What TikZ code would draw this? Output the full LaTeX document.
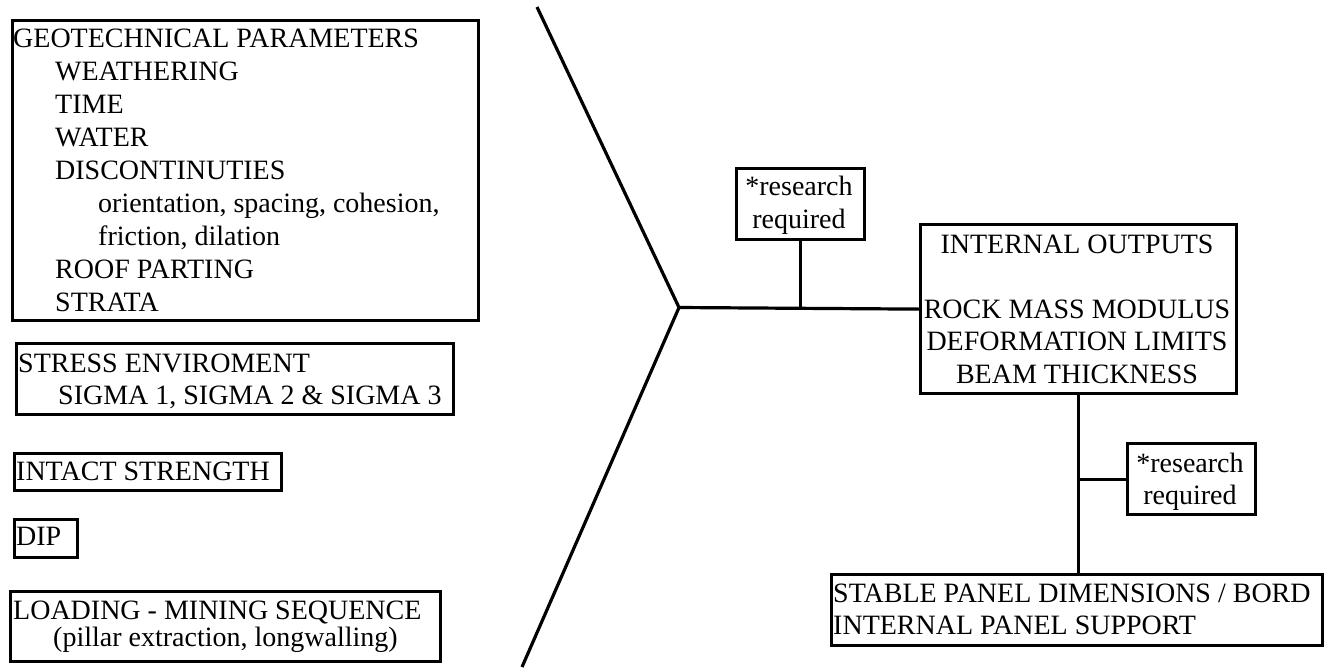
\documentclass[tikz,border=0pt]{standalone}
\usepackage{fontspec}
\setmainfont{Liberation Serif}
\tikzset{
  frame/.style={draw, line width=3.2pt, inner sep=0pt, anchor=north west},
  txt/.style={inner sep=0pt, anchor=north west, align=left, font=\fontsize{28}{33}\selectfont},
  ctxt/.style={inner sep=0pt, anchor=north, align=center, font=\fontsize{28}{33}\selectfont},
  link/.style={line width=3.2pt}
}
\begin{document}
\begin{tikzpicture}[x=1pt,y=-1pt]
\useasboundingbox (0,0) rectangle (1324,667);

% frames
\node[frame, minimum width=466pt, minimum height=300pt] (geo) at (11,19) {};
\node[frame, minimum width=437pt, minimum height=71pt] (stress) at (15,342) {};
\node[frame, minimum width=267pt, minimum height=37pt] (intact) at (13,452) {};
\node[frame, minimum width=63pt, minimum height=38pt] (dip) at (13,518) {};
\node[frame, minimum width=430pt, minimum height=70pt] (loading) at (9,590) {};
\node[frame, minimum width=128pt, minimum height=71pt] (res1) at (735,167) {};
\node[frame, minimum width=316pt, minimum height=169pt] (internal) at (919,223) {};
\node[frame, minimum width=128pt, minimum height=71pt] (res2) at (1126,442) {};
\node[frame, minimum width=491pt, minimum height=71pt] (stable) at (830,573) {};

% texts
\node[txt] (geotxt) at (13,28.5) {GEOTECHNICAL PARAMETERS\\
\hspace*{42pt}WEATHERING\\
\hspace*{42pt}TIME\\
\hspace*{42pt}WATER\\
\hspace*{42pt}DISCONTINUTIES\\
\hspace*{85pt}orientation, spacing, cohesion,\\
\hspace*{85pt}friction, dilation\\
\hspace*{42pt}ROOF PARTING\\
\hspace*{42pt}STRATA};
\node[txt, font=\fontsize{28}{32}\selectfont] (stresstxt) at (18,353.5) {STRESS ENVIROMENT\\
\hspace*{40pt}SIGMA 1, SIGMA 2 \& SIGMA 3};
\node[txt] (intacttxt) at (16,461.5) {INTACT STRENGTH};
\node[txt] (diptxt) at (16,526.5) {DIP};
\node[txt, font=\fontsize{28}{27}\selectfont] (loadtxt) at (13,600.5) {LOADING - MINING SEQUENCE\\
\hspace*{40pt}(pillar extraction, longwalling)};
\node[ctxt] (res1txt) at (799,176) {*research\\required};
\node[ctxt, font=\fontsize{28}{32.5}\selectfont] (inttxt) at (1077,234.5) {INTERNAL OUTPUTS\\[32.5pt]
ROCK MASS MODULUS\\
DEFORMATION LIMITS\\
BEAM THICKNESS};
\node[ctxt, font=\fontsize{28}{32}\selectfont] (res2txt) at (1190,453) {*research\\required};
\node[txt, font=\fontsize{28}{32}\selectfont] (stabletxt) at (833,583.5) {STABLE PANEL DIMENSIONS / BORD\\
INTERNAL PANEL SUPPORT};

% fishbone
\coordinate (T) at (537,7);
\coordinate (J) at (679,307.5);
\coordinate (B) at (522,667);
\draw[link] (T) -- (J) -- (B);
\draw[link] (J) -- (internal.west);
\draw[link] (res1.south) -- (res1.south |- J);
\draw[link] (internal.south) -- (internal.south |- stable.north);
\draw[link] (res2.west) -- (internal.south |- res2.west);
\end{tikzpicture}
\end{document}
